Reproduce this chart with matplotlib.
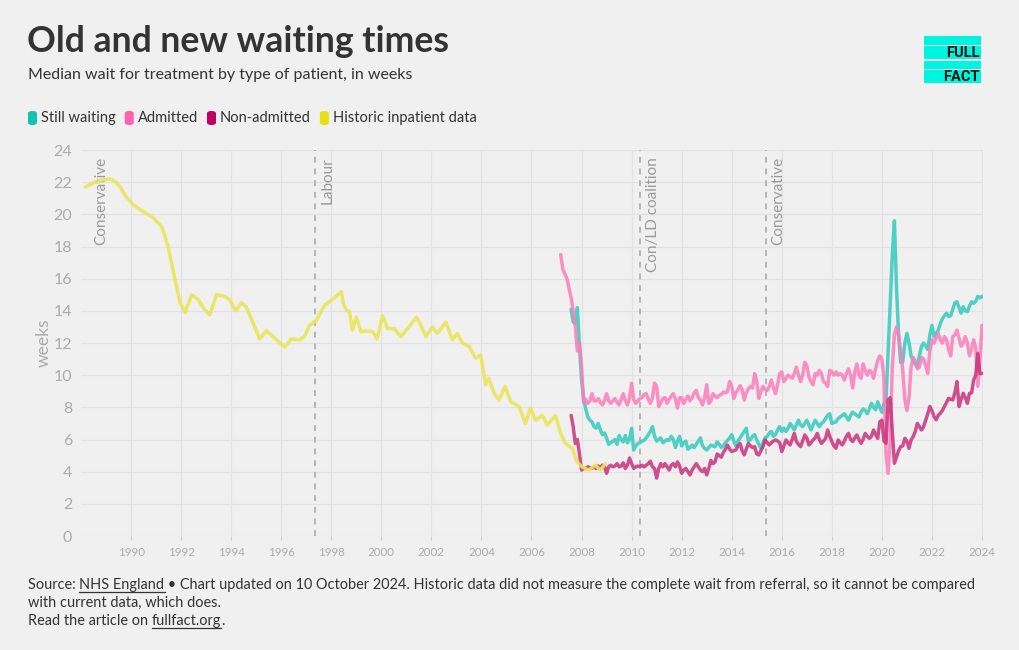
import matplotlib
matplotlib.use("Agg")
import matplotlib.pyplot as plt
from matplotlib.patches import FancyBboxPatch, Rectangle
import numpy as np

plt.rcParams['font.family'] = ['Lato', 'DejaVu Sans']

# ---------------- data ----------------
title = "Old and new waiting times"
subtitle = "Median wait for treatment by type of patient, in weeks"
series_names = ["Still waiting", "Admitted", "Non-admitted", "Historic inpatient data"]
swatch_colors = ["#12c2b2", "#ff62b0", "#c2005f", "#e4e012"]
line_colors = ["#3fcdc0", "#fb7dbb", "#c9337d", "#e9e55a"]

# historic inpatient data (decimal year, weeks)
hist_years = [1988.17, 1988.5, 1988.77, 1989.16, 1989.4, 1989.56, 1989.8, 1990.08, 1990.45, 1990.88,
              1991.24, 1991.48, 1991.76, 1991.96, 1992.16, 1992.42, 1992.68, 1992.95, 1993.15, 1993.41,
              1993.74, 1993.94, 1994.18, 1994.41, 1994.6, 1994.86, 1995.14, 1995.41, 1995.66, 1996.14,
              1996.4, 1996.73, 1996.93, 1997.13, 1997.4, 1997.73, 1998.05, 1998.4, 1998.49, 1998.6,
              1998.73, 1998.84, 1999.0, 1999.19, 1999.42, 1999.66, 1999.83, 2000.05, 2000.25, 2000.52,
              2000.78, 2001.05, 2001.4, 2001.58, 2001.78, 2002.04, 2002.24, 2002.58, 2002.84, 2003.04,
              2003.24, 2003.5, 2003.77, 2003.97, 2004.17, 2004.3, 2004.5, 2004.7, 2004.94, 2005.17,
              2005.5, 2005.76, 2005.96, 2006.16, 2006.43, 2006.63, 2006.96, 2007.16, 2007.36, 2007.63,
              2007.82, 2008.02, 2008.29, 2008.55, 2008.75, 2008.95]
hist_weeks = [21.7, 21.95, 22.1, 22.2, 22.0, 21.7, 21.1, 20.6, 20.2, 19.8,
              19.2, 18.0, 15.9, 14.5, 13.9, 15.0, 14.7, 14.05, 13.75, 15.0,
              14.9, 14.7, 14.0, 14.5, 14.25, 13.3, 12.25, 12.77, 12.4, 11.75,
              12.25, 12.2, 12.4, 13.1, 13.4, 14.35, 14.7, 15.2, 14.4, 14.05,
              13.95, 12.8, 13.6, 12.7, 12.75, 12.7, 12.25, 13.7, 12.9, 12.9,
              12.4, 12.9, 13.6, 13.1, 12.4, 13.0, 12.6, 13.3, 12.2, 12.6,
              12.0, 11.8, 11.05, 11.25, 9.4, 9.8, 8.9, 8.45, 9.3, 8.35,
              8.05, 7.0, 7.95, 7.2, 7.5, 6.9, 7.5, 6.4, 5.75, 5.45,
              4.6, 4.3, 4.1, 4.4, 4.1, 4.5]

# monthly series: first month (year, month)
admitted_start = (2007, 3)
admitted = [
    17.5, 16.6, 16.3, 16.0, 15.4, 14.8, 14.0, 13.0, 11.5, 12.0,
    10.5, 8.3, 8.5, 8.25, 8.4, 8.85, 8.4, 8.4, 8.55, 8.3, 8.15, 8.4,
    8.85, 8.4, 8.25, 8.4, 8.55, 8.3, 8.15, 8.5, 8.85, 8.4, 8.15, 8.6,
    9.5, 8.5, 8.25, 8.4, 8.55, 8.6, 8.8, 8.85, 8.5, 8.25, 8.6, 9.5,
    9.3, 8.05, 8.3, 8.55, 8.6, 8.25, 8.5, 8.7, 8.85, 8.5, 7.95, 8.6,
    8.6, 8.25, 8.5, 8.7, 8.4, 8.6, 8.9, 9.05, 8.6, 8.45, 8.15, 8.6,
    9.4, 8.25, 8.4, 8.85, 8.7, 8.6, 8.75, 8.8, 8.95, 8.9, 9.0, 9.6,
    9.3, 8.55, 8.9, 9.1, 9.35, 9.1, 8.45, 8.9, 9.15, 9.3, 9.2, 10.1,
    9.6, 8.55, 9.0, 9.3, 9.1, 9.05, 9.3, 9.7, 9.2, 8.85, 9.4, 10.1,
    10.2, 9.6, 9.8, 10.0, 9.9, 9.8, 10.1, 10.5, 10.0, 9.6, 10.0, 10.8,
    10.6, 9.9, 9.6, 9.4, 10.1, 10.0, 10.3, 10.1, 9.6, 9.5, 9.3, 10.3,
    10.2, 10.0, 10.2, 10.0, 10.1, 10.0, 9.7, 10.1, 10.4, 10.0, 9.2, 10.2,
    10.7, 10.0, 9.8, 10.7, 10.3, 10.0, 10.3, 10.2, 9.8, 10.4, 10.9, 11.2,
    11.0, 9.8, 5.0, 3.9, 6.0, 10.5, 12.5, 13.0, 12.5, 11.5, 10.3, 8.5,
    7.8, 8.6, 10.5, 11.1, 10.9, 10.4, 10.5, 11.1, 11.0, 10.6, 10.1, 11.5,
    12.2, 12.0, 12.3, 12.6, 12.2, 12.0, 12.4, 12.2, 11.6, 11.2, 12.4, 12.5,
    12.8, 12.3, 11.8, 12.0, 12.4, 12.0, 11.2, 11.6, 12.2, 11.7, 9.3, 10.9,
    13.1]

still_start = (2007, 8)
still_waiting = [
    14.1, 13.3, 13.2, 14.2, 11.8,
    9.7, 8.5, 7.9, 7.4, 7.2, 7.1, 6.8, 6.7, 7.0, 6.6, 6.3, 6.4,
    6.1, 5.7, 5.8, 5.9, 6.0, 5.7, 6.25, 6.0, 5.85, 6.25, 5.8, 6.0,
    6.7, 5.35, 5.6, 5.75, 5.8, 5.9, 5.95, 6.1, 6.3, 6.5, 6.8, 6.2,
    5.9, 6.0, 6.1, 5.8, 5.9, 6.0, 5.95, 6.2, 6.0, 5.5, 5.9, 6.2,
    5.6, 5.8, 5.9, 5.4, 5.5, 5.65, 5.5, 5.7, 5.9, 6.1, 5.6, 5.45,
    5.35, 5.5, 5.65, 5.6, 5.55, 5.85, 5.7, 5.5, 5.6, 5.8, 5.95, 6.1,
    6.3, 5.9, 5.6, 5.9, 6.1, 6.3, 6.5, 6.7, 5.9, 6.0, 6.2, 6.3,
    5.97, 5.7, 5.45, 5.8, 6.1, 6.2, 6.4, 6.5, 6.2, 6.3, 6.6, 6.8,
    6.5, 6.7, 6.5, 6.7, 7.0, 6.8, 6.6, 6.9, 7.2, 6.9, 6.8, 7.0,
    7.2, 6.9, 6.6, 6.9, 7.2, 7.0, 6.8, 7.0, 7.1, 7.3, 7.5, 7.6,
    7.0, 7.05, 7.1, 7.3, 7.4, 7.5, 7.6, 7.4, 7.2, 7.5, 7.7, 7.6,
    7.5, 7.4, 7.7, 7.9, 7.8, 7.6, 7.9, 8.25, 8.0, 7.85, 8.35, 8.0,
    7.7, 8.2, 8.5, 11.5, 14.5, 17.5, 19.6, 15.5, 12.5, 10.8, 10.8, 12.0,
    12.6, 12.0, 11.2, 10.9, 10.7, 10.5, 11.2, 11.8, 12.0, 11.8, 11.6, 12.5,
    13.1, 12.4, 12.6, 12.8, 13.2, 13.5, 13.7, 13.85, 13.65, 13.7, 14.1, 14.5,
    14.57, 14.2, 13.85, 14.26, 14.0, 13.95, 14.3, 14.57, 14.47, 14.6, 14.9, 14.8,
    14.9]

nonadm_start = (2007, 8)
non_admitted = [
    7.5, 6.8, 5.75, 6.0, 5.1,
    4.1, 4.2, 4.2, 4.3, 4.25, 4.2, 4.3, 4.2, 4.35, 4.25, 4.4, 4.3,
    3.9, 4.3, 4.4, 4.3, 4.35, 4.5, 4.3, 4.35, 4.55, 4.2, 4.4, 4.85,
    4.5, 4.2, 4.3, 4.35, 4.3, 4.4, 4.3, 4.4, 4.5, 4.65, 4.3, 4.2,
    3.6, 4.2, 4.5, 4.3, 4.5, 4.3, 4.1, 4.4, 4.5, 4.3, 4.6, 4.35,
    3.9, 4.1, 4.2, 4.0, 3.8, 4.1, 4.3, 4.5, 4.3, 4.1, 4.0, 4.2,
    3.8, 4.2, 4.7, 4.5, 4.6, 5.1, 5.0, 4.9, 5.2, 5.4, 5.65, 5.4,
    5.25, 5.3, 5.35, 5.6, 5.75, 5.3, 5.05, 5.4, 5.75, 5.6, 5.5, 5.55,
    5.1, 5.04, 5.3, 5.56, 5.97, 5.8, 5.66, 5.8, 5.9, 5.97, 5.9, 5.8,
    5.25, 5.6, 5.97, 5.8, 5.66, 6.0, 6.38, 5.87, 5.7, 5.56, 5.9, 6.28,
    6.1, 5.66, 5.8, 5.97, 6.1, 6.38, 6.0, 5.76, 5.9, 6.07, 6.59, 6.2,
    5.87, 5.6, 5.45, 5.97, 5.8, 5.66, 5.9, 6.2, 6.38, 6.0, 5.87, 6.1,
    6.28, 6.0, 5.76, 6.0, 6.38, 6.2, 6.07, 6.2, 6.59, 6.3, 6.07, 7.1,
    7.2, 5.9, 5.77, 8.46, 8.6, 6.5, 4.52, 4.9, 5.3, 5.56, 5.6, 6.07,
    5.9, 5.45, 5.97, 6.18, 6.5, 7.0, 6.8, 6.59, 6.8, 7.2, 7.6, 8.05,
    7.8, 7.43, 7.22, 7.5, 7.63, 7.8, 8.05, 8.3, 8.56, 8.5, 8.46, 8.9,
    9.6, 8.05, 8.5, 8.87, 8.6, 8.25, 8.87, 8.9, 9.7, 10.0, 11.36, 10.1,
    10.1]

gov_labels = ["Conservative", "Labour", "Con/LD coalition", "Conservative"]
gov_starts = [1979.34, 1997.34, 2010.35, 2015.35]

x_ticks = list(range(1990, 2025, 2))
y_ticks = list(range(0, 25, 2))

source_line1 = ("Source: ", "NHS England",
                " \u2022 Chart updated on 10 October 2024. Historic data did not measure the complete wait from referral, so it cannot be compared")
source_line2 = "with current data, which does."
source_line3 = ("Read the article on ", "fullfact.org", ".")


def monthly_x(start, n):
    y, m = start
    return y + (m - 1) / 12 + np.arange(n) / 12


# ---------------- figure ----------------
W, H = 1020, 650
BG = "#f0f0f0"
fig = plt.figure(figsize=(W / 100, H / 100), dpi=100, facecolor=BG)


def fx(x):
    return x / W


def fy(y):
    return 1 - y / H


XMIN, XMAX = 1988.04, 2024.04
ax = fig.add_axes([fx(82), fy(536), fx(983) - fx(82), fy(150) - fy(536)])
ax.set_facecolor(BG)
ax.set_xlim(XMIN, XMAX)
ax.set_ylim(0, 24)
for s in ax.spines.values():
    s.set_visible(False)

ax.set_yticks(y_ticks)
ax.set_xticks(x_ticks)
ax.set_xticklabels([str(t) for t in x_ticks])
ax.tick_params(axis='y', length=0, pad=7, labelsize=11.5, labelcolor="#ababab")
ax.tick_params(axis='x', length=3, color="#d0d0d0", pad=5, labelsize=8.3, labelcolor="#ababab")
ax.grid(True, color="#e2e2e2", linewidth=0.9)
ax.set_axisbelow(True)
ax.set_ylabel("weeks", color="#ababab", fontsize=12.5, labelpad=1)

# government change lines
for lab, start in zip(gov_labels, gov_starts):
    if start > XMIN:
        ax.axvline(start, color="#b4b4b4", linewidth=1.4, linestyle=(0, (3, 3)), zorder=1)
        xpos, off = start, 4
    else:
        xpos, off = XMIN, 9
    ax.annotate(lab, xy=(xpos, 24), xytext=(off, -5), textcoords="offset points",
                rotation=90, ha="left", va="top", fontsize=11, color="#9a9a9a", zorder=2)

lw = 2.5
kw = dict(lw=lw, solid_joinstyle="round", solid_capstyle="round", zorder=3)
ax.plot(monthly_x(still_start, len(still_waiting)), still_waiting, color=line_colors[0], alpha=0.9, **kw)
ax.plot(monthly_x(admitted_start, len(admitted)), admitted, color=line_colors[1], alpha=0.85, **kw)
ax.plot(monthly_x(nonadm_start, len(non_admitted)), non_admitted, color=line_colors[2], alpha=0.85, **kw)
ax.plot(hist_years, hist_weeks, color=line_colors[3], alpha=0.9, **kw)

# ---------------- titles ----------------
fig.text(fx(27), fy(42), title, fontsize=25.7, fontweight="bold", color="#333333", va="center", ha="left")
fig.text(fx(28), fy(75), subtitle, fontsize=11.5, color="#333333", va="center", ha="left")

# legend
renderer = fig.canvas.get_renderer()
lx = 28
for name, col in zip(series_names, swatch_colors):
    sw = FancyBboxPatch((fx(lx), fy(125)), fx(9), fy(111) - fy(125),
                        boxstyle="round,pad=0,rounding_size=0.004", transform=fig.transFigure,
                        facecolor=col, edgecolor="none")
    fig.patches.append(sw)
    t = fig.text(fx(lx + 13), fy(118), name, fontsize=10.5, color="#333333", va="center", ha="left")
    bb = t.get_window_extent(renderer)
    lx = lx + 13 + bb.width + 9

# logo
LOGO = "#00f5e0"
for (y0, y1) in [(36, 45), (46, 59), (61, 69), (70, 83)]:
    fig.patches.append(Rectangle((fx(924), fy(y1)), fx(981) - fx(924), fy(y0) - fy(y1),
                                 transform=fig.transFigure, facecolor=LOGO, edgecolor="none"))
fig.text(fx(980), fy(53), "FULL", fontsize=10.5, fontweight="bold", color="#111111",
         ha="right", va="center", family=["Roboto", "DejaVu Sans"])
fig.text(fx(980), fy(77), "FACT", fontsize=10.5, fontweight="bold", color="#111111",
         ha="right", va="center", family=["Roboto", "DejaVu Sans"])


# footer with underlined links
def text_run(x, y, parts, underline_idx):
    for i, p in enumerate(parts):
        t = fig.text(fx(x), fy(y), p, fontsize=10.45, color="#333333", ha="left", va="baseline")
        bb = t.get_window_extent(renderer)
        if i in underline_idx:
            fig.add_artist(plt.Line2D([fx(x), fx(x + bb.width)], [fy(y + 2.5), fy(y + 2.5)],
                                      transform=fig.transFigure, color="#333333", lw=0.9))
        x += bb.width
    return x


text_run(28, 589, source_line1, [1])
text_run(28, 607, [source_line2], [])
text_run(28, 625, source_line3, [1])

fig.savefig("out.png", dpi=100, facecolor=BG)
